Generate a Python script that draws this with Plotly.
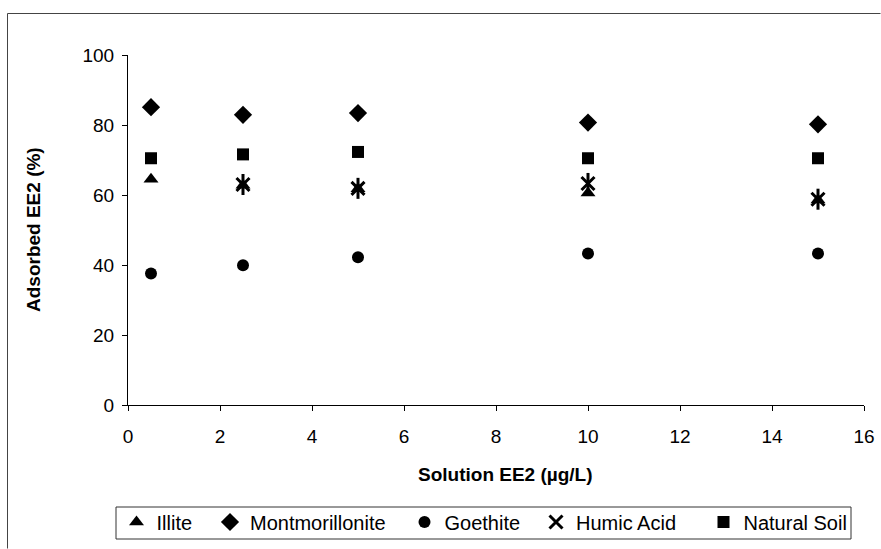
import plotly.graph_objects as go

# Solution concentration (µg/L) and percent of EE2 adsorbed per sorbent
conc = [0.5, 2.5, 5, 10, 15]
illite = [64.5, 62.8, 61.8, 60.6, 58.6]
montmorillonite = [85.1, 82.9, 83.4, 80.7, 80.2]
goethite = [37.6, 39.9, 42.2, 43.3, 43.3]
humic_conc = [2.5, 5, 10, 15]
humic_acid = [63.0, 61.9, 63.3, 58.8]
natural_soil = [70.5, 71.6, 72.3, 70.5, 70.5]

FONT = "Liberation Sans, Arial, sans-serif"
W, H = 881, 549
L, R, T, B = 128, 17, 55, 144
PW, PH = W - L - R, H - T - B


def px_x(p):
    return (p - L) / PW


def px_y(p):
    return (H - B - p) / PH


fig = go.Figure()

black = "black"
fig.add_trace(go.Scatter(
    x=conc, y=illite, mode="markers", name="Illite", legend="legend",
    marker=dict(symbol="triangle-up", size=13, color=black)))
fig.add_trace(go.Scatter(
    x=conc, y=montmorillonite, mode="markers", name="Montmorillonite", legend="legend2",
    marker=dict(symbol="diamond", size=14, color=black)))
fig.add_trace(go.Scatter(
    x=conc, y=goethite, mode="markers", name="Goethite", legend="legend3",
    marker=dict(symbol="circle", size=12, color=black)))
fig.add_trace(go.Scatter(
    x=humic_conc, y=humic_acid, mode="markers", name="Humic Acid", legend="legend4",
    legendgroup="humic",
    marker=dict(symbol="x-thin-open", size=13, color=black,
                line=dict(color=black, width=3))))
fig.add_trace(go.Scatter(
    x=humic_conc, y=humic_acid, mode="markers", name="Humic Acid", legend="legend4",
    legendgroup="humic", showlegend=False, hoverinfo="skip",
    marker=dict(symbol="line-ns-open", size=15, color=black,
                line=dict(color=black, width=3))))
fig.add_trace(go.Scatter(
    x=conc, y=natural_soil, mode="markers", name="Natural Soil", legend="legend5",
    marker=dict(symbol="square", size=12, color=black)))

legend_font = dict(family=FONT, size=20, color=black)
legend_centres = [136.5, 230, 424.5, 556, 723.5]
legend_keys = ["legend", "legend2", "legend3", "legend4", "legend5"]
legend_layout = {}
for key, cx in zip(legend_keys, legend_centres):
    legend_layout[key] = dict(
        x=px_x(cx - 20), xanchor="left", y=px_y(522), yanchor="middle",
        orientation="h", font=legend_font, bgcolor="rgba(0,0,0,0)",
        borderwidth=0, tracegroupgap=0)

axis_common = dict(
    showline=True, linecolor=black, linewidth=1, ticks="outside", ticklen=5,
    tickcolor=black, tickwidth=1, showgrid=False, zeroline=False,
    tickfont=dict(family=FONT, size=19, color=black))

fig.update_layout(
    width=W, height=H,
    margin=dict(l=L, r=R, t=T, b=B, autoexpand=False),
    paper_bgcolor="white", plot_bgcolor="white",
    showlegend=True,
    xaxis=dict(range=[0, 16], dtick=2, ticklabelstandoff=9, **axis_common),
    yaxis=dict(range=[0, 100], dtick=20, ticklabelstandoff=4, **axis_common),
    **legend_layout,
)

# Axis titles
fig.add_annotation(text="<b>Solution EE2 (µg/L)</b>", xref="paper", yref="paper",
                   x=px_x(505), y=px_y(474), xanchor="center", yanchor="middle",
                   showarrow=False, font=dict(family=FONT, size=19, color=black))
fig.add_annotation(text="<b>Adsorbed EE2 (%)</b>", xref="paper", yref="paper",
                   x=px_x(33), y=px_y(230), xanchor="center", yanchor="middle",
                   showarrow=False, textangle=-90,
                   font=dict(family=FONT, size=19, color=black))

# Legend box
fig.add_shape(type="rect", xref="paper", yref="paper",
              x0=px_x(116), x1=px_x(851), y0=px_y(507), y1=px_y(539),
              line=dict(color="#333333", width=1))
# Outer chart frame (left and top edges; the rest runs off the page)
frame = dict(color="#444444", width=1)
fig.add_shape(type="line", xref="paper", yref="paper",
              x0=px_x(7.5), x1=px_x(7.5), y0=px_y(13.5), y1=px_y(548.5), line=frame)
fig.add_shape(type="line", xref="paper", yref="paper",
              x0=px_x(7.5), x1=px_x(880.5), y0=px_y(13.5), y1=px_y(13.5), line=frame)

fig.write_html("out.html")
